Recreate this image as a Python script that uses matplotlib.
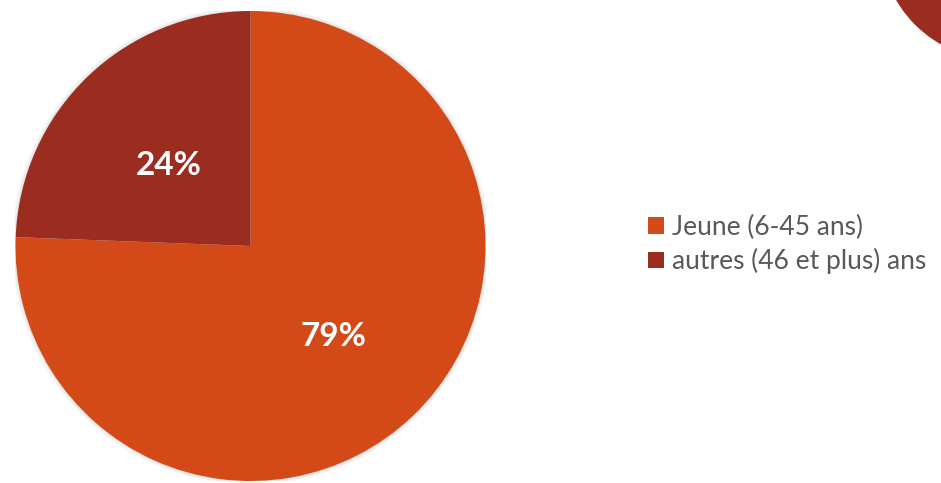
import matplotlib.pyplot as plt
from matplotlib.patches import Circle

# data
categories = ['Jeune (6-45 ans)', 'autres (46 et plus) ans']
shares = [75.6, 24.4]
labels_shown = ['79%', '24%']
colors = ['#D34A18', '#9B2D20']

plt.rcParams['font.family'] = ['Lato', 'DejaVu Sans']

fig = plt.figure(figsize=(9.41, 4.83), dpi=100)

# decorative circle in the top-right corner (inch coords)
fig.add_artist(Circle((10.0, 5.43), 1.2, transform=fig.dpi_scale_trans,
                      facecolor='#9B2D20', edgecolor='none'))

# pie axes: centre ~ (250.5, 237) px from bottom-left, radius 235 px
W, H = 941, 483
r = 235
ax = fig.add_axes([(250.5 - r) / W, (237 - r) / H, 2 * r / W, 2 * r / H])

# soft shadow round the pie
for k, a in [(1.018, 0.05), (1.011, 0.07), (1.005, 0.09)]:
    ax.add_patch(Circle((0, 0), k, facecolor='#808080', edgecolor='none', alpha=a, zorder=0))

wedges, _ = ax.pie(shares, colors=colors, startangle=90, counterclock=False,
                   radius=1, wedgeprops=dict(linewidth=0))
for w in wedges:
    w.set_zorder(2)

ax.text(0.355, -0.387, labels_shown[0], color='white', fontsize=24, fontweight='bold',
        ha='center', va='center', zorder=3)
ax.text(-0.35, 0.341, labels_shown[1], color='white', fontsize=24, fontweight='bold',
        ha='center', va='center', zorder=3)
ax.set_xlim(-1, 1)
ax.set_ylim(-1, 1)
ax.set_aspect('equal')
ax.axis('off')

# legend
leg = fig.legend(wedges, categories, loc='upper left', bbox_to_anchor=(648 / W, 1 - 214.5 / H),
                 frameon=False, fontsize=19, borderpad=0, borderaxespad=0,
                 handlelength=0.6, handleheight=0.6, handletextpad=0.3,
                 labelspacing=0.33, labelcolor='#595959')

fig.savefig('out.png', dpi=100)
